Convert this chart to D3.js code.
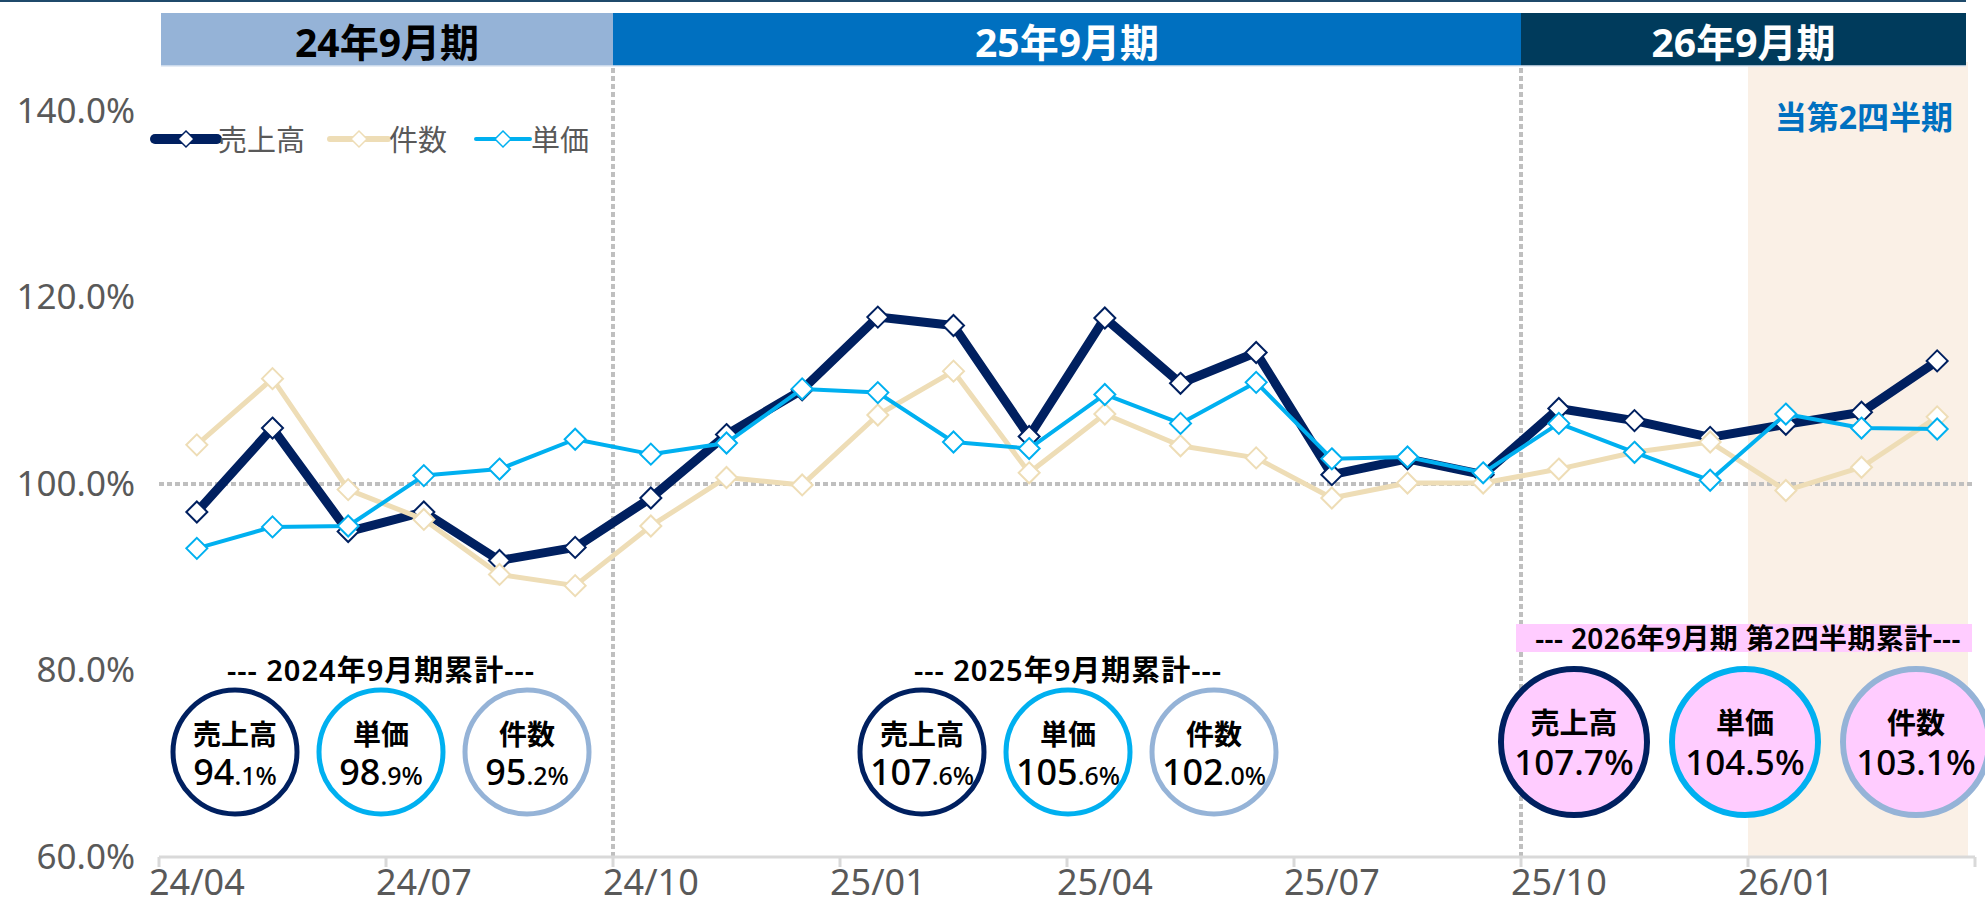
<!DOCTYPE html>
<html>
<head>
<meta charset="utf-8">
<script src="https://cdn.jsdelivr.net/npm/d3@7/dist/d3.min.js"></script>
<style>
  body { margin: 0; background: #fff; }
  text { font-family: "Noto Sans", "Noto Sans CJK JP", sans-serif; }
</style>
</head>
<body>
<div id="chart"></div>
<script>
// monthly YoY ratios (%)
const months = ["24/04","24/05","24/06","24/07","24/08","24/09","24/10","24/11","24/12","25/01","25/02","25/03",
                "25/04","25/05","25/06","25/07","25/08","25/09","25/10","25/11","25/12","26/01","26/02","26/03"];
const sales  = [97.0,106.0,94.9,97.0,91.8,93.2,98.5,105.3,110.1,117.9,117.0,105.1,
                117.8,110.8,114.1,101.0,102.7,101.0,108.1,106.8,105.0,106.4,107.7,113.2];
const counts = [104.2,111.3,99.4,96.2,90.3,89.1,95.5,100.7,99.9,107.4,112.1,101.2,
                107.5,104.1,102.8,98.5,100.1,100.1,101.6,103.4,104.5,99.3,101.8,107.2];
const prices = [93.1,95.4,95.5,100.9,101.6,104.8,103.2,104.4,110.2,109.8,104.5,103.8,
                109.6,106.5,110.9,102.7,102.9,101.2,106.5,103.4,100.4,107.5,106.0,105.9];

const yTicks = [60, 80, 100, 120, 140];
const tickLabels = ["24/04","24/07","24/10","25/01","25/04","25/07","25/10","26/01"];

const periodLabels = ["24年9月期", "25年9月期", "26年9月期"];
const periodStarts = ["24/04", "24/10", "25/10"];
const currentQuarterStart = "26/01";

const summaryTitles = ["--- 2024年9月期累計---", "--- 2025年9月期累計---", "--- 2026年9月期 第2四半期累計---"];
const summarySales  = [94.1, 107.6, 107.7];
const summaryPrice  = [98.9, 105.6, 104.5];
const summaryCount  = [95.2, 102.0, 103.1];

const width = 1985, height = 905;
const navy = "#002060", tan = "#EEDDB6", cyan = "#00B0F0", lightBlue = "#95B3D7", grey = "#595959";

const svg = d3.select("#chart").append("svg")
    .attr("width", width)
    .attr("height", height);

const x = d3.scaleBand().domain(months).range([159, 1975]);
const y = d3.scaleLinear().domain([60, 140]).range([857, 111]);
const cx = m => x(m) + x.bandwidth() / 2;
const edge = i => i >= months.length ? x.range()[1] : x(months[i]);
const bandRight = 1966;

// thin top rule
svg.append("rect").attr("x", 0).attr("y", 0).attr("width", bandRight).attr("height", 2).attr("fill", "#1F4A6B");

// current quarter shading
svg.append("rect")
    .attr("x", x(currentQuarterStart)).attr("y", 62)
    .attr("width", bandRight + 2 - x(currentQuarterStart)).attr("height", y(60) - 62)
    .attr("fill", "#FAF0E6");

svg.append("text")
    .attr("x", 1953).attr("y", 116)
    .attr("text-anchor", "end").attr("dominant-baseline", "central")
    .attr("font-size", 32).attr("font-weight", "bold").attr("fill", "#0070C0")
    .text("当第2四半期");

// period header bands
const bandFill = ["#95B3D7", "#0070C0", "#003B5C"];
const bandText = ["#000", "#fff", "#fff"];
periodStarts.forEach((s, i) => {
    const x0 = i === 0 ? 161 : x(s);
    const x1 = i < periodStarts.length - 1 ? x(periodStarts[i + 1]) : bandRight;
    svg.append("rect").attr("x", x0).attr("y", 13).attr("width", x1 - x0).attr("height", 53)
        .attr("fill", bandFill[i]);
    svg.append("text")
        .attr("x", (x0 + x1) / 2).attr("y", 41)
        .attr("text-anchor", "middle").attr("dominant-baseline", "central")
        .attr("font-size", 39).attr("font-weight", "bold").attr("fill", bandText[i])
        .text(periodLabels[i]);
});
svg.append("line").attr("x1", 161).attr("x2", bandRight).attr("y1", 66).attr("y2", 66)
    .attr("stroke", "#DCE6F2").attr("stroke-width", 1.5);

// dotted reference lines
svg.append("line")
    .attr("x1", x.range()[0]).attr("x2", x.range()[1]).attr("y1", y(100)).attr("y2", y(100))
    .attr("stroke", "#BFBFBF").attr("stroke-width", 4).attr("stroke-dasharray", "5,3");
periodStarts.slice(1).forEach(s => {
    svg.append("line")
        .attr("x1", x(s)).attr("x2", x(s)).attr("y1", 68).attr("y2", y(60))
        .attr("stroke", "#BFBFBF").attr("stroke-width", 4).attr("stroke-dasharray", "5,3");
});

// y axis labels
const yAxis = svg.append("g")
    .attr("transform", "translate(140,0)")
    .call(d3.axisLeft(y).tickValues(yTicks).tickFormat(d => d.toFixed(1) + "%").tickSize(0).tickPadding(5));
yAxis.select(".domain").remove();
yAxis.selectAll("text").attr("font-size", 35).attr("fill", grey)
    .style("font-family", '"Noto Sans", sans-serif');

// x axis
svg.append("line")
    .attr("x1", x.range()[0]).attr("x2", x.range()[1]).attr("y1", y(60)).attr("y2", y(60))
    .attr("stroke", "#D9D9D9").attr("stroke-width", 3);
d3.range(0, months.length + 1, 3).forEach(i => {
    svg.append("line")
        .attr("x1", edge(i)).attr("x2", edge(i)).attr("y1", y(60)).attr("y2", y(60) + 10)
        .attr("stroke", "#D9D9D9").attr("stroke-width", 3);
});
const xAxis = svg.append("g")
    .attr("transform", `translate(0,${y(60)})`)
    .call(d3.axisBottom(x).tickValues(tickLabels).tickSize(0).tickPadding(12));
xAxis.select(".domain").remove();
xAxis.selectAll("text").attr("font-size", 36).attr("fill", grey)
    .style("font-family", '"Noto Sans", sans-serif');

// series
const diamond = "M0,-10.5L10.5,0L0,10.5L-10.5,0Z";
const series = [
    { name: "売上高", values: sales,  color: navy, width: 9 },
    { name: "件数",   values: counts, color: tan,  width: 5 },
    { name: "単価",   values: prices, color: cyan, width: 4 }
];
const line = d3.line().x((d, i) => cx(months[i])).y(d => y(d));

series.forEach(s => {
    svg.append("path")
        .datum(s.values)
        .attr("d", line)
        .attr("fill", "none")
        .attr("stroke", s.color)
        .attr("stroke-width", s.width)
        .attr("stroke-linejoin", "round");
    svg.selectAll(null)
        .data(s.values)
        .enter()
        .append("path")
        .attr("d", diamond)
        .attr("transform", (d, i) => `translate(${cx(months[i])},${y(d)})`)
        .attr("fill", "#fff")
        .attr("stroke", s.color)
        .attr("stroke-width", 2);
});

// legend
const legendX = [155, 330, 476];
const legendLen = [62, 58, 54];
series.forEach((s, i) => {
    const g = svg.append("g").attr("transform", `translate(${legendX[i]},139)`);
    g.append("line").attr("x1", 0).attr("x2", legendLen[i]).attr("y1", 0).attr("y2", 0)
        .attr("stroke", s.color).attr("stroke-width", i === 0 ? 10 : (i === 1 ? 6 : 4))
        .attr("stroke-linecap", "round");
    g.append("path").attr("d", "M0,-8L8,0L0,8L-8,0Z")
        .attr("transform", `translate(${legendLen[i] / 2},0)`)
        .attr("fill", "#fff").attr("stroke", s.color).attr("stroke-width", 1.5);
    g.append("text").attr("x", legendLen[i] + 1).attr("y", 0)
        .attr("dominant-baseline", "central")
        .attr("font-size", 29).attr("fill", grey)
        .text(s.name);
});

// summary circles
const groupCenters = [381, 1068, 1745];
const summaryColors = [navy, cyan, lightBlue];
const summaryNames = ["売上高", "単価", "件数"];
summaryTitles.forEach((t, gi) => {
    const big = gi === 2;
    const r = big ? 73 : 62;
    const gap = big ? 171 : 146;
    const cy = big ? 742 : 752;
    const titleY = big ? 638 : 669;
    if (big) {
        svg.append("rect").attr("x", 1516).attr("y", 624).attr("width", 456).attr("height", 28)
            .attr("fill", "#FFCCFF");
    }
    svg.append("text")
        .attr("x", groupCenters[gi] + (big ? 3 : 0)).attr("y", titleY)
        .attr("text-anchor", "middle").attr("dominant-baseline", "central")
        .attr("font-size", big ? 28 : 29).attr("letter-spacing", big ? 0.4 : 1)
        .attr("font-weight", 600).attr("fill", "#000")
        .text(t);
    const vals = [summarySales[gi], summaryPrice[gi], summaryCount[gi]];
    vals.forEach((v, k) => {
        const ccx = groupCenters[gi] + (k - 1) * gap;
        svg.append("circle")
            .attr("cx", ccx).attr("cy", cy).attr("r", r)
            .attr("fill", big ? "#FFCCFF" : "#fff")
            .attr("stroke", summaryColors[k]).attr("stroke-width", big ? 6 : 5);
        svg.append("text")
            .attr("x", ccx).attr("y", cy - (big ? 8 : 7))
            .attr("text-anchor", "middle")
            .attr("font-size", big ? 29 : 28).attr("font-weight", "bold").attr("fill", "#000")
            .text(summaryNames[k]);
        const num = svg.append("text")
            .attr("x", ccx).attr("y", cy + (big ? 33 : 33))
            .attr("text-anchor", "middle").attr("fill", "#000");
        const [ip, dp] = v.toFixed(1).split(".");
        if (big) {
            num.attr("font-size", 35).attr("font-weight", 500).text(v.toFixed(1) + "%");
        } else {
            num.append("tspan").attr("font-size", 36).attr("font-weight", 500).text(ip);
            num.append("tspan").attr("font-size", 25).attr("font-weight", 500).text("." + dp + "%");
        }
    });
});
</script>
</body>
</html>
